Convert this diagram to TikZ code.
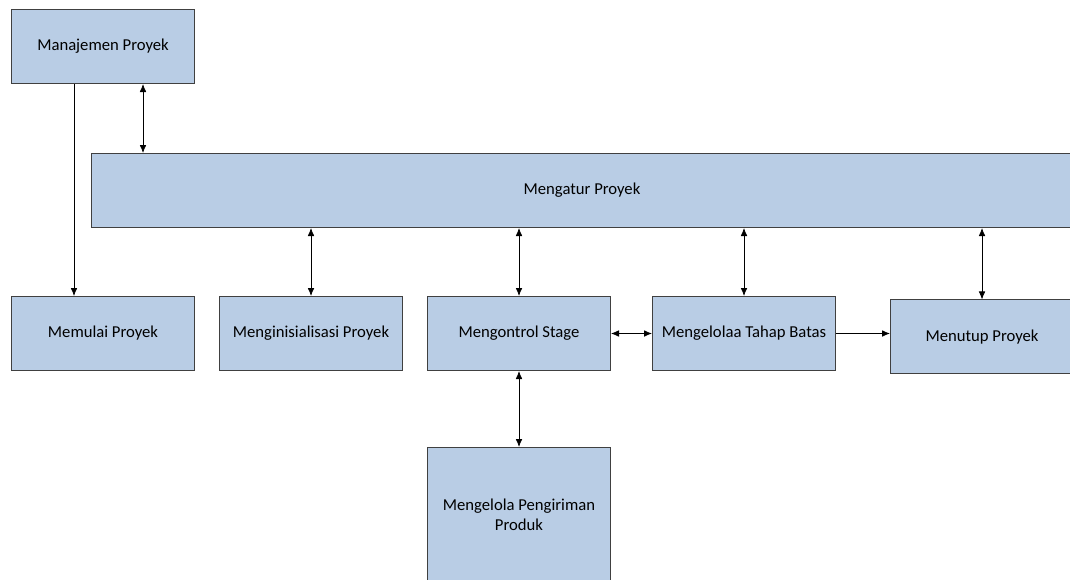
\documentclass[tikz,border=0pt]{standalone}
\usepackage{fontspec}
\setmainfont{Carlito}
\usepackage{tikz}
\usetikzlibrary{positioning}
\usetikzlibrary{calc}
\usetikzlibrary{arrows.meta}
\definecolor{boxblue}{HTML}{B9CDE5}
\definecolor{boxline}{HTML}{404040}
\tikzset{
	stagebox/.style={draw=boxline, fill=boxblue, line width=0.75pt, minimum width=137.25pt, minimum height=55.5pt, inner sep=2pt, align=center, font=\fontsize{12.5}{15}\selectfont},
	onearrow/.style={draw=black, line width=0.6pt, -{Latex[length=6pt,width=5pt]}},
	twoarrow/.style={draw=black, line width=0.6pt, {Latex[length=6pt,width=5pt]}-{Latex[length=6pt,width=5pt]}}
}

\begin{document}
\begin{tikzpicture}[x=0.75pt, y=0.75pt]
	\path[use as bounding box] (0,0) rectangle (1070,-579);
	\clip (0,0) rectangle (1070,-579);
	\node [stagebox] at (103,-46.5) (1manajemen) {Manajemen Proyek};
	\node [stagebox, minimum width=736.5pt] at (582,-190.5) (2mengatur) {Mengatur Proyek};
	\node [stagebox, below=159pt of 1manajemen] (3memulai) {Memulai Proyek}; \node [stagebox, right=18pt of 3memulai] (3inisialisasi) {Menginisialisasi Proyek};
	\node [stagebox, right=18pt of 3inisialisasi] (3mengontrol) {Mengontrol Stage}; \node [stagebox, right=30.75pt of 3mengontrol] (3tahap) {Mengelolaa Tahap Batas};
	\node [stagebox, right=40.5pt of 3tahap, yshift=-2.6pt] (3menutup) {Menutup Proyek};
	\node [stagebox, minimum height=100.5pt, below=57pt of 3mengontrol] (4pengiriman) {Mengelola Pengiriman\\Produk};
	
	\draw [onearrow] ([xshift=-21.75pt]1manajemen.south) -- ([xshift=-21.75pt]1manajemen.south |- 3memulai.north);
	\draw [twoarrow] ([xshift=30pt]1manajemen.south) -- ([xshift=30pt]1manajemen.south |- 2mengatur.north);
	\draw [twoarrow] (3inisialisasi.north |- 2mengatur.south) -- (3inisialisasi.north); \draw [twoarrow] (3mengontrol.north |- 2mengatur.south) -- (3mengontrol.north);
	\draw [twoarrow] (3tahap.north |- 2mengatur.south) -- (3tahap.north); \draw [twoarrow] (3menutup.north |- 2mengatur.south) -- (3menutup.north);
	\draw [twoarrow] (3mengontrol.east) -- (3tahap.west); \draw [onearrow] (3tahap.east) -- (3tahap.east -| 3menutup.west);
	\draw [twoarrow] (3mengontrol.south) -- (4pengiriman.north);
\end{tikzpicture}
\end{document}
